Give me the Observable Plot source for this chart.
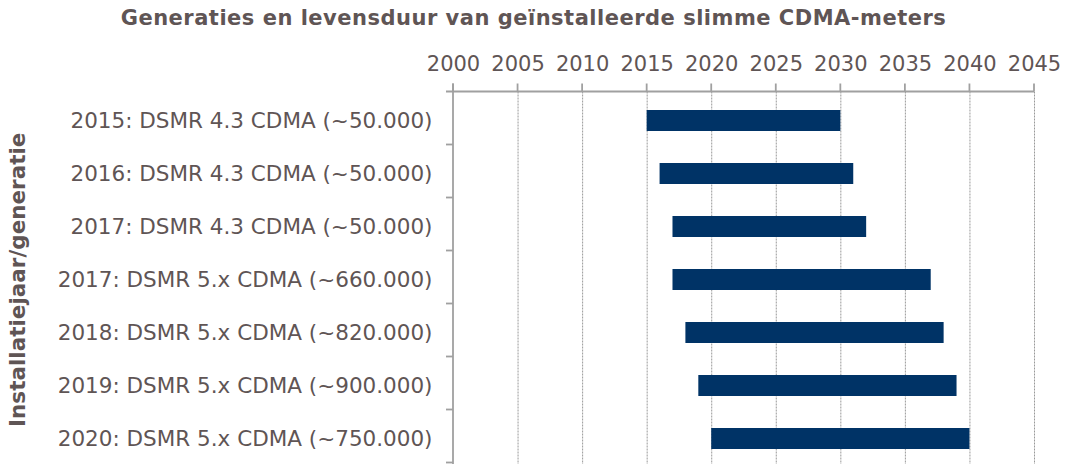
<!DOCTYPE html>
<html>
<head>
<meta charset="utf-8">
<script src="https://cdn.jsdelivr.net/npm/d3@7"></script>
<script src="https://cdn.jsdelivr.net/npm/@observablehq/plot@0.6"></script>
<style>
  html, body { margin: 0; padding: 0; background: #fff; overflow: hidden; }
  #title { height: 30px; line-height: 36px; text-align: center; font-family: "DejaVu Sans", Verdana, sans-serif; font-weight: bold; font-size: 21px; letter-spacing: 0.5px; color: #5f5555; white-space: nowrap; overflow: hidden; }
  #chart { height: 434px; overflow: hidden; }
  svg { display: block; }
</style>
</head>
<body>
<div id="title">Generaties en levensduur van geïnstalleerde slimme CDMA-meters</div>
<div id="chart"></div>
<script>
const categories = [
  "2015: DSMR 4.3 CDMA (~50.000)",
  "2016: DSMR 4.3 CDMA (~50.000)",
  "2017: DSMR 4.3 CDMA (~50.000)",
  "2017: DSMR 5.x CDMA (~660.000)",
  "2018: DSMR 5.x CDMA (~820.000)",
  "2019: DSMR 5.x CDMA (~900.000)",
  "2020: DSMR 5.x CDMA (~750.000)"
];
const startYears = [2015, 2016, 2017, 2017, 2018, 2019, 2020];
const endYears = [2030, 2031, 2032, 2037, 2038, 2039, 2040];
const xTicks = [2000, 2005, 2010, 2015, 2020, 2025, 2030, 2035, 2040, 2045];
const yTitle = "Installatiejaar/generatie";

const data = categories.map((c, i) => ({cat: c, start: startYears[i], end: endYears[i]}));
const textColor = "#5f5555";
const axisColor = "#a0a0a0";

const chart = Plot.plot({
  width: 1067,
  height: 437,
  marginTop: 61.5,
  marginLeft: 453,
  marginRight: 33,
  marginBottom: 0,
  style: {fontFamily: "'DejaVu Sans', Verdana, sans-serif", color: textColor, background: "#fff"},
  x: {domain: [2000, 2045], ticks: xTicks},
  y: {domain: categories, paddingInner: 0.61, paddingOuter: 0.305, align: 0.5},
  marks: [
    Plot.gridX(xTicks.slice(1), {stroke: "#999", strokeOpacity: 1, strokeDasharray: "2,1", strokeWidth: 1}),
    Plot.barX(data, {y: "cat", x1: "start", x2: "end", fill: "#003366"}),
    Plot.axisX({anchor: "top", ticks: xTicks, tickFormat: d => String(d), tickSize: 0, tickPadding: 21, fontSize: 21, fill: textColor, label: null}),
    Plot.axisY({tickSize: 0, tickPadding: 21, fontSize: 21.5, fill: textColor, label: null}),
    Plot.text([yTitle], {frameAnchor: "left", dx: -435, rotate: -90, textAnchor: "middle", fontSize: 21.5, fontWeight: "bold", fill: textColor})
  ]
});

document.getElementById("chart").appendChild(chart);

// axis lines and tick marks, positioned with the plot's own scales
const xs = chart.scale("x");
const ys = chart.scale("y");
const svg = d3.select(chart);
const x0 = xs.apply(2000), xEnd = xs.apply(2045);
const yTop = ys.range[0], yBot = ys.range[1];
const g = svg.append("g").attr("stroke", axisColor).attr("stroke-width", 1.8).attr("fill", "none");
g.append("line").attr("x1", x0 - 7).attr("x2", xEnd).attr("y1", yTop).attr("y2", yTop);
g.append("line").attr("x1", x0).attr("x2", x0).attr("y1", yTop - 8).attr("y2", yBot + 10);
xTicks.forEach(t => {
  g.append("line").attr("x1", xs.apply(t)).attr("x2", xs.apply(t)).attr("y1", yTop - 8).attr("y2", yTop);
});
for (let k = 1; k <= categories.length; k++) {
  const yy = yTop + ys.step * k;
  g.append("line").attr("x1", x0 - 7).attr("x2", x0).attr("y1", yy).attr("y2", yy);
}
</script>
</body>
</html>
